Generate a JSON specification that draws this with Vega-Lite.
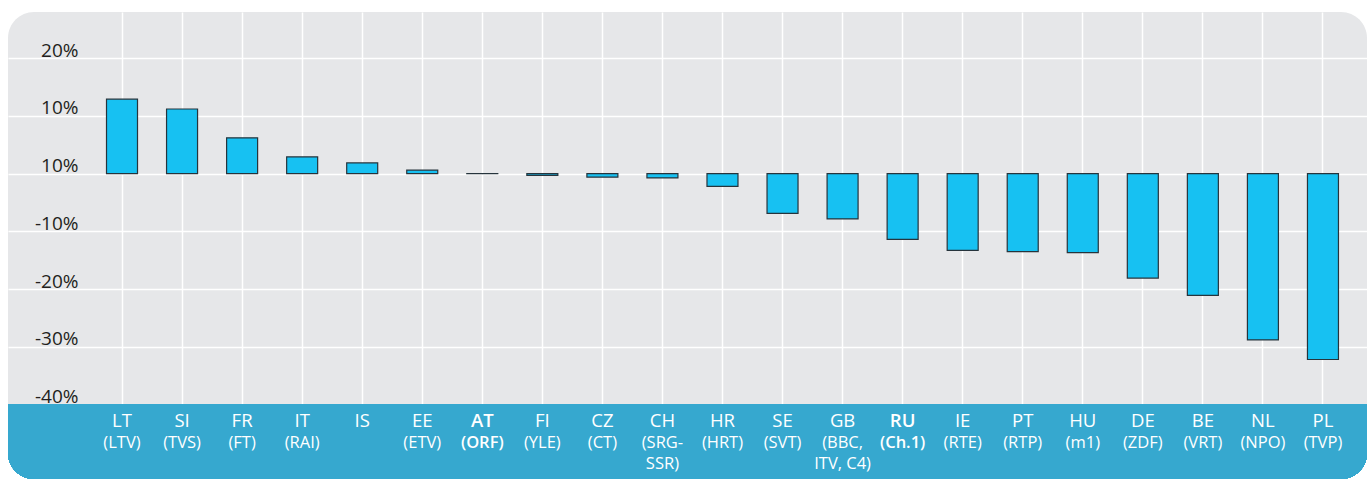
{
  "$schema": "https://vega.github.io/schema/vega-lite/v6.json",
  "width": 1370,
  "height": 479,
  "autosize": {"type": "fit", "contains": "padding"},
  "padding": {"left": 8, "top": 12, "right": 3, "bottom": 0},
  "background": "#ffffff",
  "config": {
    "view": {"fill": "#e6e7e9", "stroke": null, "cornerRadius": 26},
    "font": "Open Sans"
  },
  "data": {
    "values": [
      {"code": "LT", "sub": "(LTV)", "sub2": "", "value": 12.9, "bold": false},
      {"code": "SI", "sub": "(TVS)", "sub2": "", "value": 11.2, "bold": false},
      {"code": "FR", "sub": "(FT)", "sub2": "", "value": 6.2, "bold": false},
      {"code": "IT", "sub": "(RAI)", "sub2": "", "value": 2.9, "bold": false},
      {"code": "IS", "sub": "", "sub2": "", "value": 1.85, "bold": false},
      {"code": "EE", "sub": "(ETV)", "sub2": "", "value": 0.6, "bold": false},
      {"code": "AT", "sub": "(ORF)", "sub2": "", "value": 0.02, "bold": true},
      {"code": "FI", "sub": "(YLE)", "sub2": "", "value": -0.3, "bold": false},
      {"code": "CZ", "sub": "(CT)", "sub2": "", "value": -0.6, "bold": false},
      {"code": "CH", "sub": "(SRG-", "sub2": "SSR)", "value": -0.75, "bold": false},
      {"code": "HR", "sub": "(HRT)", "sub2": "", "value": -2.2, "bold": false},
      {"code": "SE", "sub": "(SVT)", "sub2": "", "value": -6.9, "bold": false},
      {"code": "GB", "sub": "(BBC,", "sub2": "ITV, C4)", "value": -7.85, "bold": false},
      {"code": "RU", "sub": "(Ch.1)", "sub2": "", "value": -11.4, "bold": true},
      {"code": "IE", "sub": "(RTE)", "sub2": "", "value": -13.3, "bold": false},
      {"code": "PT", "sub": "(RTP)", "sub2": "", "value": -13.5, "bold": false},
      {"code": "HU", "sub": "(m1)", "sub2": "", "value": -13.7, "bold": false},
      {"code": "DE", "sub": "(ZDF)", "sub2": "", "value": -18.1, "bold": false},
      {"code": "BE", "sub": "(VRT)", "sub2": "", "value": -21.1, "bold": false},
      {"code": "NL", "sub": "(NPO)", "sub2": "", "value": -28.8, "bold": false},
      {"code": "PL", "sub": "(TVP)", "sub2": "", "value": -32.2, "bold": false}
    ]
  },
  "encoding": {
    "x": {
      "field": "code",
      "type": "nominal",
      "sort": null,
      "scale": {"paddingInner": 0, "paddingOuter": 0.816, "align": 0.857},
      "axis": {
        "title": null,
        "labels": false,
        "ticks": false,
        "domain": false,
        "grid": true,
        "gridColor": "#ffffff",
        "gridWidth": 1.5,
        "bandPosition": 0.5
      }
    }
  },
  "layer": [
    {
      "mark": {"type": "bar", "width": 31, "fill": "#17c1f2", "stroke": "#26343c", "strokeWidth": 1.2},
      "encoding": {
        "y": {
          "field": "value",
          "type": "quantitative",
          "scale": {"domain": [-52.9, 28.0], "nice": false, "zero": false},
          "axis": {
            "title": null,
            "values": [-40, -30, -20, -10, 0, 10, 20],
            "labelExpr": "datum.value == 0 ? '10%' : datum.value + '%'",
            "domain": false,
            "ticks": false,
            "grid": true,
            "gridColor": "#ffffff",
            "gridWidth": 1.5,
            "offset": -70,
            "labelPadding": 0,
            "labelAlign": "right",
            "labelBaseline": "alphabetic",
            "labelOffset": -2,
            "labelFontSize": 19,
            "labelColor": "#231f20",
            "labelFont": "Open Sans"
          }
        },
        "y2": {"datum": 0}
      }
    },
    {
      "mark": {"type": "rect", "fill": "#36a8cf", "cornerRadiusBottomLeft": 26, "cornerRadiusBottomRight": 26},
      "encoding": {
        "x": null,
        "y": {"datum": -40},
        "y2": {"datum": -52.9}
      }
    },
    {
      "transform": [{"filter": "!datum.bold"}],
      "mark": {"type": "text", "color": "#ffffff", "fontSize": 18.5, "baseline": "middle", "align": "center"},
      "encoding": {"y": {"datum": -42.8}, "text": {"field": "code"}}
    },
    {
      "transform": [{"filter": "datum.bold"}],
      "mark": {"type": "text", "color": "#ffffff", "fontSize": 18.5, "fontWeight": 600, "baseline": "middle", "align": "center"},
      "encoding": {"y": {"datum": -42.8}, "text": {"field": "code"}}
    },
    {
      "transform": [{"filter": "!datum.bold"}],
      "mark": {"type": "text", "color": "#ffffff", "fontSize": 16.5, "baseline": "middle", "align": "center"},
      "encoding": {"y": {"datum": -46.6}, "text": {"field": "sub"}}
    },
    {
      "transform": [{"filter": "datum.bold"}],
      "mark": {"type": "text", "color": "#ffffff", "fontSize": 16.5, "fontWeight": 600, "baseline": "middle", "align": "center"},
      "encoding": {"y": {"datum": -46.6}, "text": {"field": "sub"}}
    },
    {
      "mark": {"type": "text", "color": "#ffffff", "fontSize": 16.5, "baseline": "middle", "align": "center"},
      "encoding": {"y": {"datum": -50.3}, "text": {"field": "sub2"}}
    }
  ]
}
